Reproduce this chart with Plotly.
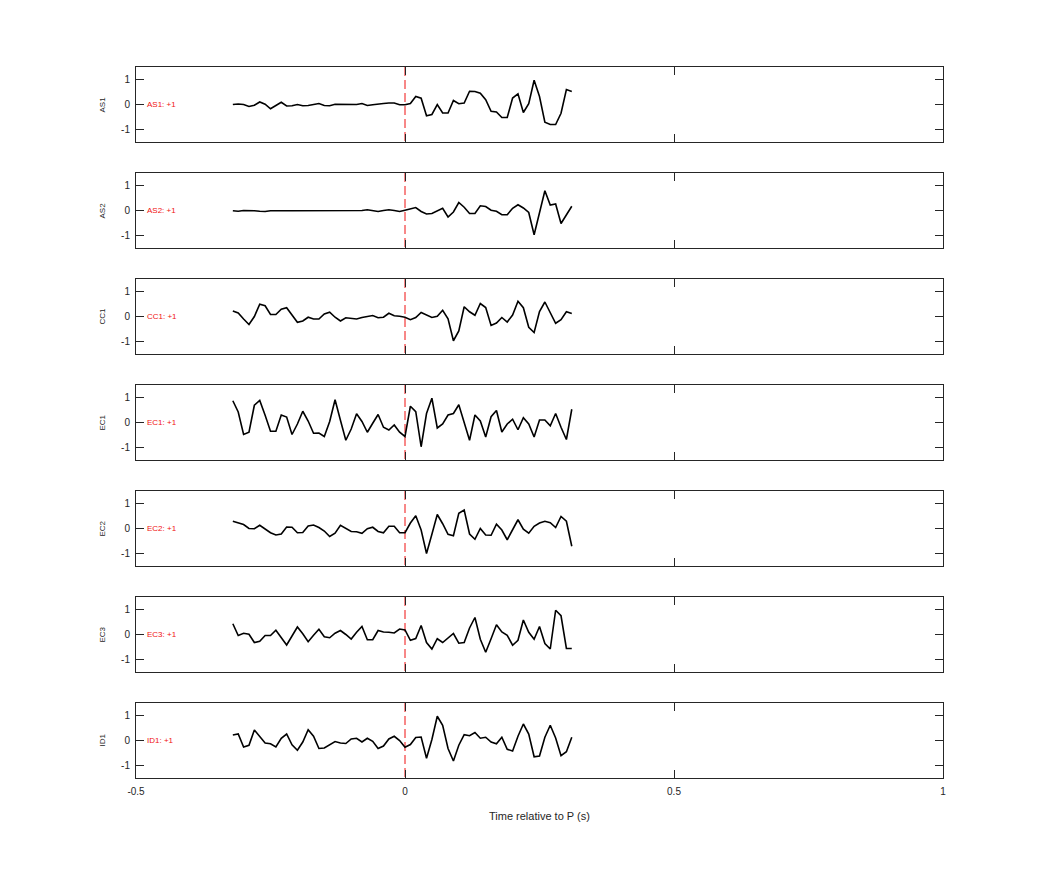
import plotly.graph_objects as go

# ---- data ----
stations = ["AS1", "AS2", "CC1", "EC1", "EC2", "EC3", "ID1"]
labels = ["AS1: +1", "AS2: +1", "CC1: +1", "EC1: +1", "EC2: +1", "EC3: +1", "ID1: +1"]
time_s = [i / 100 for i in range(-32, 32)]

as1 = [0.00, 0.02, 0.00, -0.08, -0.03, 0.10, 0.01, -0.17, -0.04, 0.09, -0.06, -0.05, 0.00, -0.05, -0.04, -0.01,
       0.04, -0.04, -0.05, 0.01, 0.00, 0.00, 0.00, 0.00, 0.04, -0.04, -0.01, 0.03, 0.04, 0.06, 0.06, -0.01,
       -0.01, 0.04, 0.32, 0.25, -0.45, -0.40, 0.00, -0.34, -0.34, 0.16, 0.03, 0.06, 0.53, 0.52, 0.45, 0.19,
       -0.27, -0.30, -0.52, -0.52, 0.26, 0.43, -0.32, 0.03, 0.97, 0.32, -0.71, -0.80, -0.80, -0.35, 0.60, 0.52]
as2 = [-0.01, -0.03, 0.00, 0.01, -0.01, -0.03, -0.04, -0.01, 0.00, 0.00, -0.01, -0.01, -0.01, -0.03, -0.03, -0.01,
       -0.03, -0.03, -0.03, -0.03, -0.03, -0.01, -0.01, 0.00, 0.00, 0.03, -0.01, -0.04, 0.00, 0.03, 0.00, -0.04,
       0.01, 0.08, 0.12, -0.04, -0.14, -0.12, -0.03, 0.09, -0.26, -0.06, 0.32, 0.13, -0.12, -0.12, 0.19, 0.16,
       0.01, -0.03, -0.17, -0.17, 0.09, 0.23, 0.10, -0.08, -0.97, -0.13, 0.79, 0.22, 0.26, -0.52, -0.19, 0.17]
cc1 = [0.22, 0.14, -0.10, -0.32, 0.00, 0.49, 0.43, 0.08, 0.08, 0.29, 0.35, 0.06, -0.23, -0.18, -0.03, -0.10,
       -0.10, 0.10, 0.17, -0.03, -0.18, -0.05, -0.08, -0.10, -0.04, 0.00, 0.04, -0.05, -0.03, 0.13, 0.03, 0.01,
       -0.03, -0.13, -0.04, 0.16, 0.06, -0.04, 0.01, 0.25, -0.09, -0.97, -0.58, 0.39, 0.19, 0.05, 0.52, 0.36,
       -0.36, -0.26, -0.04, -0.22, 0.06, 0.61, 0.35, -0.43, -0.64, 0.20, 0.58, 0.13, -0.27, -0.13, 0.19, 0.12]
ec1 = [0.87, 0.42, -0.48, -0.39, 0.69, 0.88, 0.29, -0.35, -0.35, 0.30, 0.22, -0.48, -0.06, 0.45, 0.06, -0.43,
       -0.42, -0.56, 0.04, 0.91, 0.09, -0.71, -0.26, 0.35, 0.04, -0.39, -0.03, 0.32, -0.19, -0.30, -0.10, -0.39,
       -0.56, 0.65, 0.43, -0.97, 0.36, 0.97, -0.22, -0.06, 0.30, 0.36, 0.71, 0.00, -0.71, 0.30, 0.06, -0.58,
       0.23, 0.48, -0.38, -0.06, 0.13, -0.29, 0.19, -0.06, -0.58, 0.10, 0.10, -0.13, 0.36, -0.19, -0.68, 0.53]
ec2 = [0.29, 0.22, 0.16, 0.00, -0.01, 0.13, -0.03, -0.17, -0.26, -0.22, 0.06, 0.05, -0.17, -0.16, 0.10, 0.14,
       0.04, -0.10, -0.32, -0.19, 0.13, 0.00, -0.12, -0.13, -0.19, -0.01, 0.05, -0.12, -0.17, 0.09, 0.09, -0.17,
       -0.17, 0.22, 0.51, -0.06, -1.00, -0.23, 0.56, 0.19, -0.23, -0.29, 0.61, 0.74, -0.22, -0.43, 0.00, -0.26,
       -0.27, 0.17, -0.06, -0.45, -0.06, 0.35, -0.03, -0.19, 0.09, 0.22, 0.29, 0.23, 0.04, 0.48, 0.29, -0.71]
ec3 = [0.43, -0.04, 0.05, 0.01, -0.32, -0.27, -0.04, -0.04, 0.17, -0.13, -0.42, -0.06, 0.30, 0.03, -0.29, -0.03,
       0.21, -0.09, -0.13, 0.05, 0.16, 0.00, -0.18, 0.09, 0.32, -0.21, -0.21, 0.16, 0.10, 0.09, 0.06, 0.22,
       0.18, -0.23, -0.16, 0.36, -0.32, -0.58, -0.17, -0.32, -0.13, 0.04, -0.35, -0.32, 0.26, 0.68, -0.19, -0.71,
       -0.17, 0.39, 0.10, -0.03, -0.43, -0.23, 0.58, 0.09, -0.19, 0.32, -0.36, -0.58, 0.97, 0.75, -0.56, -0.56]
id1 = [0.22, 0.26, -0.26, -0.19, 0.42, 0.17, -0.10, -0.13, -0.26, 0.09, 0.26, -0.17, -0.39, -0.06, 0.43, 0.17,
       -0.32, -0.30, -0.17, -0.04, -0.10, -0.12, 0.06, 0.09, -0.06, 0.09, -0.03, -0.32, -0.22, 0.06, 0.17, 0.00,
       -0.27, -0.16, 0.12, 0.14, -0.71, 0.04, 0.97, 0.61, -0.32, -0.82, -0.19, 0.23, 0.19, 0.32, 0.09, 0.13,
       -0.06, -0.13, 0.13, -0.35, -0.42, 0.17, 0.66, 0.26, -0.65, -0.62, 0.13, 0.61, 0.10, -0.61, -0.45, 0.13]
series = [as1, as2, cc1, ec1, ec2, ec3, id1]

x_ticks = [-0.5, 0, 0.5, 1]
x_ticklabels = ["-0.5", "0", "0.5", "1"]
y_ticks = [-1, 0, 1]
y_ticklabels = ["-1", "0", "1"]

# ---- layout (page body has an 8px margin) ----
W, H = 1034, 867
ml, mr, mt, mb = 128, 99, 59, 97
PW = W - ml - mr
PH = H - mt - mb
step, ph = 106, 75
axcol = "#262626"
red = "#f01010"
font = "Liberation Sans, Arial, Helvetica, sans-serif"

fig = go.Figure()
n = len(stations)
for k in range(n):
    idx = "" if k == 0 else str(k + 1)
    xa, ya = "x" + idx, "y" + idx
    fig.add_trace(go.Scatter(x=[0, 0], y=[1.5, -1.5], mode="lines",
                             line=dict(color=red, width=1, dash="9px,4px"),
                             xaxis=xa, yaxis=ya, showlegend=False, hoverinfo="skip"))
    fig.add_trace(go.Scatter(x=time_s, y=series[k], mode="lines",
                             line=dict(color="black", width=1.6),
                             xaxis=xa, yaxis=ya, showlegend=False, name=stations[k]))
    top = 1 - (step * k) / PH
    bot = 1 - (step * k + ph) / PH
    common = dict(showline=True, linecolor=axcol, linewidth=1, mirror="ticks",
                  ticks="inside", ticklen=8, tickcolor=axcol, tickwidth=1,
                  showgrid=False, zeroline=False,
                  tickfont=dict(family=font, size=10, color=axcol))
    fig.update_layout(**{
        ("xaxis" + idx): dict(domain=[0, 1], range=[-0.5, 1], anchor=ya,
                              tickvals=x_ticks, ticktext=x_ticklabels,
                              ticklabelstandoff=4,
                              showticklabels=(k == n - 1), **common),
        ("yaxis" + idx): dict(domain=[bot, top], range=[-1.5, 1.5], anchor=xa,
                              tickvals=y_ticks, ticktext=y_ticklabels,
                              ticklabelstandoff=3, **common),
    })
    ymid = (top + bot) / 2
    fig.add_annotation(xref="paper", yref="paper", x=(102 - 136) / PW, y=ymid,
                       text=stations[k], showarrow=False, textangle=-90,
                       xanchor="center", yanchor="middle",
                       font=dict(family=font, size=8, color=axcol))
    fig.add_annotation(xref=xa, yref=ya, x=-0.4815, y=0, text=labels[k], showarrow=False,
                       xanchor="left", yanchor="middle", xshift=-1,
                       font=dict(family=font, size=8, color=red))

fig.add_annotation(xref="paper", yref="paper", x=0.5, y=-38 / PH,
                   text="Time relative to P (s)", showarrow=False,
                   xanchor="center", yanchor="middle",
                   font=dict(family=font, size=11, color=axcol))

fig.update_layout(width=W, height=H, margin=dict(l=ml, r=mr, t=mt, b=mb),
                  paper_bgcolor="white", plot_bgcolor="white")
fig.write_html("out.html")
